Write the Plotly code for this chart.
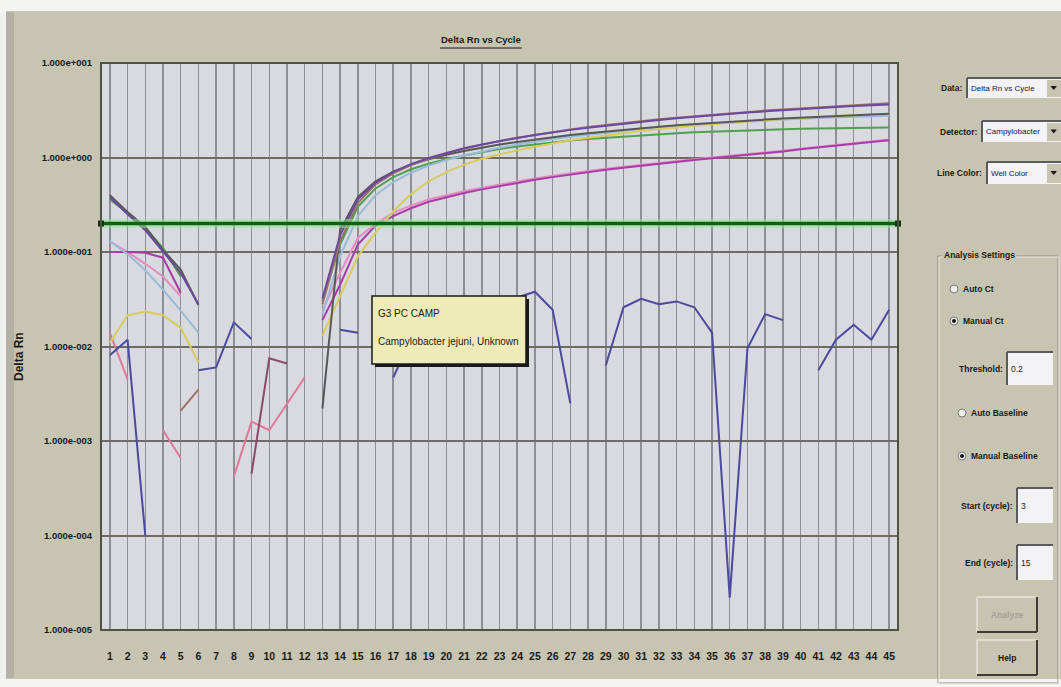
import plotly.graph_objects as go

N = None
cycles = list(range(1, 46))
threshold = 0.2

# Delta Rn per well (None = not drawn on log scale)
well_purple = [0.38, 0.25, 0.17, 0.10, 0.06, 0.028, N, N, N, N, N, N,
               0.032, 0.15, 0.36, 0.54, 0.70, 0.85, 0.99, 1.12, 1.25, 1.37, 1.49, 1.61, 1.73, 1.85, 1.96, 2.07,
               2.18, 2.29, 2.40, 2.50, 2.60, 2.70, 2.80, 2.90, 2.99, 3.08, 3.17, 3.26, 3.34, 3.42, 3.50, 3.57, 3.64]
well_gray = [0.40, 0.265, 0.184, 0.105, 0.065, 0.0275, N, N, N, N, N, N,
             0.0022, 0.17, 0.38, 0.56, 0.71, 0.84, 0.96, 1.07, 1.17, 1.27, 1.37, 1.46, 1.55, 1.64, 1.73, 1.81,
             1.89, 1.97, 2.05, 2.12, 2.19, 2.26, 2.33, 2.40, 2.46, 2.52, 2.58, 2.64, 2.70, 2.75, 2.80, 2.85, 2.90]
well_brown = [N, N, N, N, 0.0021, 0.0035, N, N, N, N, N, N,
              0.028, 0.13, 0.33, 0.52, 0.68, 0.83, 0.97, 1.11, 1.24, 1.37, 1.50, 1.62, 1.74, 1.86, 1.98, 2.10,
              2.21, 2.32, 2.43, 2.54, 2.64, 2.74, 2.84, 2.94, 3.04, 3.14, 3.23, 3.32, 3.41, 3.50, 3.58, 3.66, 3.74]
well_yellow = [0.011, 0.0214, 0.0234, 0.0214, 0.0158, 0.0068, N, N, N, N, N, N,
               0.013, 0.035, 0.09, 0.16, 0.27, 0.41, 0.56, 0.70, 0.84, 0.97, 1.08, 1.19, 1.30, 1.41, 1.52, 1.62,
               1.72, 1.82, 1.91, 2.00, 2.09, 2.17, 2.25, 2.33, 2.41, 2.48, 2.55, 2.62, 2.68, 2.74, 2.80, 2.85, 2.90]
well_lightblue = [0.13, 0.095, 0.064, 0.04, 0.024, 0.014, N, N, N, N, N, N,
                  0.022, 0.09, 0.24, 0.40, 0.55, 0.69, 0.82, 0.94, 1.05, 1.16, 1.27, 1.37, 1.47, 1.57, 1.66, 1.75,
                  1.84, 1.92, 2.00, 2.08, 2.15, 2.22, 2.29, 2.35, 2.41, 2.47, 2.52, 2.57, 2.62, 2.66, 2.70, 2.73, 2.76]
well_green = [0.36, 0.26, 0.18, 0.11, 0.055, N, N, N, N, N, N, N,
              0.03, 0.12, 0.30, 0.47, 0.62, 0.75, 0.86, 0.96, 1.05, 1.14, 1.23, 1.31, 1.38, 1.45, 1.51, 1.57,
              1.62, 1.67, 1.72, 1.77, 1.81, 1.85, 1.88, 1.91, 1.94, 1.97, 1.99, 2.01, 2.03, 2.05, 2.06, 2.07, 2.08]
well_magenta = [0.10, 0.10, 0.098, 0.087, 0.037, N, N, N, N, N, N, N,
                0.019, 0.045, 0.12, 0.19, 0.24, 0.29, 0.34, 0.38, 0.42, 0.46, 0.50, 0.54, 0.58, 0.62, 0.66, 0.70,
                0.74, 0.78, 0.82, 0.86, 0.90, 0.94, 0.98, 1.02, 1.06, 1.11, 1.16, 1.22, 1.28, 1.34, 1.40, 1.46, 1.52]
well_pink = [0.13, 0.10, 0.075, 0.055, 0.034, N, N, N, N, N, N, N,
             0.024, 0.06, 0.14, 0.20, 0.26, 0.31, 0.36, 0.40, 0.44, 0.48, 0.52, 0.56, 0.60, 0.64, 0.68, 0.72,
             0.76, 0.80, 0.84, 0.88, 0.92, 0.96, 1.00, 1.04, 1.08, 1.13, 1.18, 1.24, 1.30, 1.36, 1.42, 1.48, 1.55]
well_salmon = [0.014, 0.0045, N, 0.0013, 0.00066, N, N, 0.00042, 0.0016, 0.0013, 0.0025, 0.0047] + [N] * 33
well_darkred = [N] * 8 + [0.00045, 0.0075, 0.0066] + [N] * 34
well_blue = [0.0081, 0.0118, 0.0001, N, N, 0.0056, 0.006, 0.018, 0.012, N, N, N, N, 0.015, 0.014, N,
             0.0047, 0.012, 0.02, 0.025, 0.028, 0.03, 0.03, 0.033, 0.038, 0.0245, 0.0025, N, 0.0063, 0.026,
             0.032, 0.028, 0.030, 0.026, 0.014, 0.000022, 0.0096, 0.022, 0.019, N, 0.0056, 0.0118, 0.017,
             0.0118, 0.0245]

wells = [
    ("salmon", well_salmon, "#E07898"),
    ("darkred", well_darkred, "#8A4A6A"),
    ("blue", well_blue, "#4A4A9E"),
    ("pink", well_pink, "#E58CC0"),
    ("magenta", well_magenta, "#A83CA8"),
    ("green", well_green, "#4FA04F"),
    ("lightblue", well_lightblue, "#98BCD8"),
    ("yellow", well_yellow, "#D8CC5C"),
    ("gray", well_gray, "#585858"),
    ("brown", well_brown, "#A0706A"),
    ("purple", well_purple, "#6A4A9E"),
]
for _, v, _c in wells:
    assert len(v) == 45

y_ticks = [1e1, 1e0, 1e-1, 1e-2, 1e-3, 1e-4, 1e-5]
y_ticktext = ["1.000e+001", "1.000e+000", "1.000e-001", "1.000e-002",
              "1.000e-003", "1.000e-004", "1.000e-005"]

# ---- geometry (pixels) ----
W, H = 1061, 687
L, R, T, B = 101, 898, 63, 630
PW, PH = R - L, B - T


def px(x):
    return (x - L) / PW


def py(y):
    return (B - y) / PH


BEIGE = "#C7C4B1"
FONT = "Liberation Sans, Arial, sans-serif"

fig = go.Figure()
for name, vals, col in wells:
    fig.add_trace(go.Scatter(x=cycles, y=vals, mode="lines", name=name,
                             line=dict(color=col, width=2), connectgaps=False,
                             hoverinfo="skip"))

# threshold line (glow + line + end handles)
thr_x = [0.5, 45.5]
fig.add_trace(go.Scatter(x=thr_x, y=[threshold] * 2, mode="lines",
                         line=dict(color="rgba(150,230,150,0.5)", width=9), hoverinfo="skip"))
fig.add_trace(go.Scatter(x=thr_x, y=[threshold] * 2, mode="lines+markers",
                         line=dict(color="#0C650C", width=3.5),
                         marker=dict(symbol="square", size=6, color="#143014"),
                         cliponaxis=False, hoverinfo="skip"))

shapes = []
ann = []


def rect(x0, y0, x1, y1, fill=None, line=None, lw=1, layer="above"):
    shapes.append(dict(type="rect", xref="paper", yref="paper",
                       x0=px(x0), x1=px(x1), y0=py(y1), y1=py(y0),
                       fillcolor=fill if fill else "rgba(0,0,0,0)",
                       line=dict(color=line if line else "rgba(0,0,0,0)", width=lw if line else 0),
                       layer=layer))


def hline(x0, x1, y, color, lw=1, layer="above"):
    shapes.append(dict(type="line", xref="paper", yref="paper", x0=px(x0), x1=px(x1),
                       y0=py(y), y1=py(y), line=dict(color=color, width=lw), layer=layer))


def vline(x, y0, y1, color, lw=1, layer="above"):
    shapes.append(dict(type="line", xref="paper", yref="paper", x0=px(x), x1=px(x),
                       y0=py(y0), y1=py(y1), line=dict(color=color, width=lw), layer=layer))


def text(x, y, s, anchor="left", size=9, color="#1A1A1A", bold=False, angle=0, bg=None):
    ann.append(dict(xref="paper", yref="paper", x=px(x), y=py(y), text=("<b>%s</b>" % s) if bold else s,
                    showarrow=False, xanchor=anchor, yanchor="middle", textangle=angle,
                    font=dict(family=FONT, size=size, color=color),
                    bgcolor=bg if bg else "rgba(0,0,0,0)", borderpad=1))


# outer window strips
rect(0, 0, 6, H, fill="#F0F0EE", layer="below")
rect(6, 12, 14, 678, fill="#B3B1A3", layer="below")
rect(0, 0, W, 11, fill="#F4F4F2", layer="below")
rect(0, 679, W, H, fill="#F4F4F2", layer="below")

# plot frame
rect(L, T, R, B, line="#4C5444", lw=2)

# title
text(481, 40, "Delta Rn vs Cycle", anchor="center", size=9.5, bold=True)
hline(440, 522, 48, "#1A1A1A", 1)
# y axis title
text(19, 357, "Delta Rn", anchor="center", size=12, bold=True, angle=-90)

# ---- tooltip ----
rect(375, 299, 529, 367, fill="#1A1A1A")
rect(372, 296, 526, 364, fill="#EFEBB8", line="#1A1A1A", lw=1.5)
text(376, 313, "G3 PC CAMP", size=10)
text(376, 341, "Campylobacter jejuni, Unknown", size=10)

# ---- right panel ----
BOX = "#F3F3F6"
PS = 8.5


def combo(label, label_right, y0, y1, box_x0, value):
    ym = (y0 + y1) / 2
    text(label_right, ym, label, anchor="right", size=PS, bold=True)
    rect(box_x0, y0, 1061, y1, fill=BOX)
    hline(box_x0, 1061, y0, "#5A5A5A", 2)
    vline(box_x0, y0, y1, "#5A5A5A", 2)
    text(box_x0 + 2, ym, value, size=8, color="#10105A")
    rect(1047, y0 + 2, 1061, y1 - 1, fill=BEIGE)
    shapes.append(dict(type="path", xref="paper", yref="paper",
                       path="M %f %f L %f %f L %f %f Z" % (px(1050.5), py(ym - 2), px(1057), py(ym - 2),
                                                          px(1053.75), py(ym + 2)),
                       fillcolor="#1A1A1A", line=dict(width=0), layer="above"))


combo("Data:", 964, 78, 98, 967, "Delta Rn vs Cycle")
combo("Detector:", 979, 121, 142, 982, "Campylobacter")
combo("Line Color:", 984, 162, 184, 987, "Well Color")

# group box
rect(938, 256, 1058, 683, line="#8E8C80", lw=1)
rect(939, 257, 1059, 684, line="#ECEAE0", lw=1)
text(942, 255, "Analysis Settings", size=PS, bold=True, bg=BEIGE)


def radio(x, y, selected, label):
    shapes.append(dict(type="circle", xref="paper", yref="paper",
                       x0=px(x - 4), x1=px(x + 4), y0=py(y + 4), y1=py(y - 4),
                       fillcolor="#EDEDED", line=dict(color="#7A7A7A", width=1), layer="above"))
    if selected:
        shapes.append(dict(type="circle", xref="paper", yref="paper",
                           x0=px(x - 2), x1=px(x + 2), y0=py(y + 2), y1=py(y - 2),
                           fillcolor="#111111", line=dict(width=0), layer="above"))
    text(x + 7, y, label, size=PS, bold=True)


radio(954, 289, False, "Auto Ct")
radio(954, 321, True, "Manual Ct")
radio(962, 413, False, "Auto Baseline")
radio(962, 456, True, "Manual Baseline")


def edit(label, label_right, x0, y0, x1, y1, value):
    ym = (y0 + y1) / 2
    text(label_right, ym, label, anchor="right", size=PS, bold=True)
    rect(x0, y0, x1, y1, fill=BOX)
    hline(x0, x1, y0, "#5A5A5A", 2)
    vline(x0, y0, y1, "#5A5A5A", 2)
    text(x0 + 2, ym, value, size=8.5)


edit("Threshold:", 1005, 1007, 352, 1053, 385, "0.2")
edit("Start (cycle):", 1015, 1017, 488, 1053, 523, "3")
edit("End (cycle):", 1015, 1017, 545, 1053, 580, "15")


def button(x0, y0, x1, y1, label, enabled=True):
    rect(x0, y0, x1, y1, fill=BEIGE)
    hline(x0, x1, y0, "#F4F4F0", 1)
    vline(x0, y0, y1, "#F4F4F0", 1)
    hline(x0, x1, y1, "#3C3C34", 2)
    vline(x1, y0, y1, "#3C3C34", 2)
    text((x0 + x1) / 2, (y0 + y1) / 2, label, anchor="center", size=PS, bold=True,
         color="#1A1A1A" if enabled else "#A4A294")


button(977, 597, 1037, 632, "Analyze", enabled=False)
button(977, 640, 1037, 675, "Help")

fig.update_layout(
    width=W, height=H,
    margin=dict(l=L, r=W - R, t=T, b=H - B, pad=0),
    paper_bgcolor=BEIGE, plot_bgcolor="#D9D9E0",
    showlegend=False, hovermode=False,
    shapes=shapes, annotations=ann,
    xaxis=dict(range=[0.5, 45.5], tickvals=cycles, ticktext=[str(c) for c in cycles],
               showgrid=True, gridcolor="#8E8E96", gridwidth=1.5, zeroline=False,
               ticks="outside", ticklen=16, tickcolor="rgba(0,0,0,0)",
               tickfont=dict(family=FONT, size=10.5, color="#1A1A1A", weight="bold"), fixedrange=True),
    yaxis=dict(type="log", range=[-5, 1], tickvals=y_ticks, ticktext=y_ticktext,
               showgrid=True, gridcolor="#6F6B62", gridwidth=2, zeroline=False,
               ticks="outside", ticklen=6, tickcolor="rgba(0,0,0,0)",
               tickfont=dict(family=FONT, size=9.5, color="#1A1A1A", weight="bold"), fixedrange=True),
)

fig.write_html("out.html", config={"displayModeBar": False, "staticPlot": True},
               post_script="document.body.style.margin='0px';")
